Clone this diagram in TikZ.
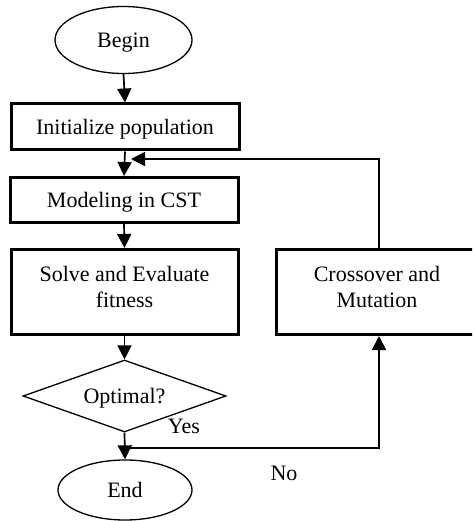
\documentclass[tikz,border=0pt]{standalone}
\usepackage{fontspec}
\setmainfont{Liberation Serif}
\usetikzlibrary{shapes.geometric,arrows.meta}
% strut that lowers the bottom of a two-line label
\newcommand{\lowstrut}{\rule[-11pt]{0pt}{11pt}}
\begin{document}
\begin{tikzpicture}[x=1pt,y=-1pt,
  every node/.style={font=\fontsize{22}{26}\selectfont, inner sep=0pt, align=center},
  oneline/.style={text depth=0pt},
  terminal/.style={ellipse, draw, line width=1.3pt, oneline},
  stepbox/.style={rectangle, draw, line width=3pt},
  decision/.style={diamond, draw, line width=1.3pt, oneline},
  flow/.style={line width=1.7pt, -{Triangle[width=14pt,length=14pt]}}]
\useasboundingbox (0,0) rectangle (472,521);
\clip (0,0) rectangle (472,521);

\node[terminal, minimum width=137pt, minimum height=67pt] (begin) at (123.5,40) {Begin};
\node[stepbox, oneline, minimum width=228pt, minimum height=46pt] (init) at (125,127) {Initialize population};
\node[stepbox, oneline, minimum width=228pt, minimum height=45pt] (model) at (124,200) {Modeling in CST};
\node[stepbox, minimum width=227pt, minimum height=85pt] (solve) at (124.5,292) {Solve and Evaluate\\fitness\lowstrut};
\node[stepbox, minimum width=202pt, minimum height=85pt] (cross) at (377,292) {Crossover and\\Mutation\lowstrut};
\node[decision, minimum width=203pt, minimum height=72pt, aspect=2.8] (opt) at (124.5,396) {Optimal?};
\node[terminal, minimum width=134pt, minimum height=60pt] (end) at (125,490) {End};

\node[anchor=base] (yes) at (184,433) {Yes};
\node[anchor=base] (no) at (284,480) {No};

\coordinate (fb) at (379,159);
\coordinate (join) at (131,159);
\coordinate (split) at (124,448);

\draw[flow] (begin.south) -- (init.north);
\draw[flow] (init.south) -- (model.north);
\draw[flow] (model.south) -- (solve.north);
\draw[flow] (solve.south) -- (opt.north);
\draw[flow] (opt.south) -- (end.north);
\draw[flow] (cross.north -| fb) -- (fb) -- (join);
\draw[flow] (split) -| (cross.south -| fb);
\end{tikzpicture}
\end{document}
